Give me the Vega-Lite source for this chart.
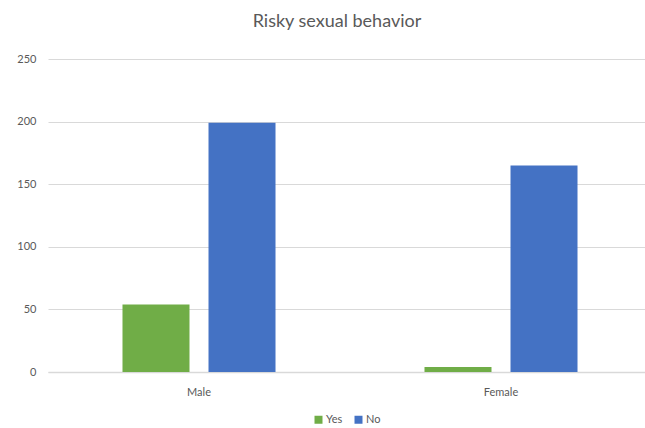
{
  "$schema": "https://vega.github.io/schema/vega-lite/v6.json",
  "autosize": {"type": "none"},
  "padding": {"left": 48, "top": 59, "right": 0, "bottom": 56},
  "width": 604,
  "height": 313,
  "background": "white",
  "title": {
    "text": "Risky sexual behavior",
    "font": "Lato",
    "fontSize": 18,
    "fontWeight": "normal",
    "color": "#595959",
    "anchor": "middle",
    "dx": -13,
    "offset": 22
  },
  "data": {
    "values": [
      {"gender": "Male", "answer": "Yes", "count": 54},
      {"gender": "Male", "answer": "No", "count": 199},
      {"gender": "Female", "answer": "Yes", "count": 4},
      {"gender": "Female", "answer": "No", "count": 165}
    ]
  },
  "mark": {"type": "bar"},
  "encoding": {
    "x": {
      "field": "gender",
      "type": "nominal",
      "sort": ["Male", "Female"],
      "title": null,
      "scale": {"paddingInner": 0, "paddingOuter": 0},
      "axis": {
        "labelAngle": 0,
        "ticks": false,
        "domainColor": "#d9d9d9",
        "domainWidth": 1.5,
        "labelFont": "Lato",
        "labelFontSize": 11,
        "labelColor": "#595959",
        "labelPadding": 14
      }
    },
    "xOffset": {
      "field": "answer",
      "type": "nominal",
      "sort": ["Yes", "No"],
      "scale": {"paddingInner": 0.221, "paddingOuter": 0.866}
    },
    "y": {
      "field": "count",
      "type": "quantitative",
      "title": null,
      "scale": {"domain": [0, 250]},
      "axis": {
        "values": [0, 50, 100, 150, 200, 250],
        "ticks": false,
        "domain": false,
        "gridColor": "#d9d9d9",
        "labelFont": "Lato",
        "labelFontSize": 11,
        "labelColor": "#595959",
        "labelPadding": 12
      }
    },
    "color": {
      "field": "answer",
      "type": "nominal",
      "sort": ["Yes", "No"],
      "scale": {"domain": ["Yes", "No"], "range": ["#70AD47", "#4472C4"]},
      "legend": {
        "title": null,
        "orient": "none",
        "legendX": 265,
        "legendY": 355,
        "direction": "horizontal",
        "symbolType": "square",
        "symbolSize": 64,
        "labelFont": "Lato",
        "labelFontSize": 11,
        "labelColor": "#595959",
        "columnPadding": 10,
        "labelOffset": 2
      }
    }
  },
  "config": {
    "view": {"stroke": null}
  }
}
